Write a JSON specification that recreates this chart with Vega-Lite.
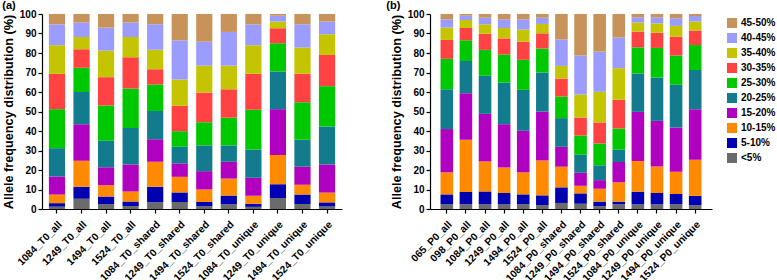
{
  "$schema": "https://vega.github.io/schema/vega-lite/v6.json",
  "padding": {"left": 2, "top": 0, "right": 0, "bottom": 0},
  "background": "white",
  "spacing": 44,
  "config": {
    "view": {"stroke": null},
    "font": "Liberation Sans",
    "axis": {
      "labelFont": "Liberation Sans", "labelFontWeight": "bold", "labelFontSize": 10, "labelColor": "black",
      "titleFont": "Liberation Sans", "titleFontWeight": "bold", "titleFontSize": 12.7, "titleColor": "black",
      "domainColor": "black", "tickColor": "black", "domainWidth": 1.2, "tickWidth": 1.2, "tickSize": 4, "grid": false
    },
    "title": {"font": "Liberation Sans", "fontSize": 11, "fontWeight": "bold", "color": "black", "anchor": "start", "frame": "bounds", "offset": -2},
    "legend": {
      "labelFont": "Liberation Sans", "labelFontWeight": "bold", "labelFontSize": 10, "labelColor": "black", "labelOffset": 4,
      "symbolType": "square", "symbolSize": 100, "symbolStrokeWidth": 0, "rowPadding": 5, "title": null, "padding": 0,
      "orient": "none", "legendX": 685, "legendY": 4
    }
  },
  "resolve": {"scale": {"color": "shared"}},
  "hconcat": [
    {
      "title": {"text": "(a)"},
      "width": 300,
      "height": 195,
      "data": {"values": [
        {"sample": "1084_T0_all", "<5%": 1.2, "5-10%": 1.8, "10-15%": 4.4, "15-20%": 9.3, "20-25%": 14.5, "25-30%": 20, "30-35%": 18.1, "35-40%": 14.7, "40-45%": 10.7, "45-50%": 5.3},
        {"sample": "1249_T0_all", "<5%": 5.2, "5-10%": 6.2, "10-15%": 13.3, "15-20%": 18.8, "20-25%": 16.5, "25-30%": 12.4, "30-35%": 9.5, "35-40%": 6.3, "40-45%": 7.5, "45-50%": 4.3},
        {"sample": "1494_T0_all", "<5%": 2.5, "5-10%": 3.9, "10-15%": 5.8, "15-20%": 9.2, "20-25%": 13.6, "25-30%": 18.1, "30-35%": 14.5, "35-40%": 13.6, "40-45%": 11.8, "45-50%": 7},
        {"sample": "1524_T0_all", "<5%": 1.5, "5-10%": 2.3, "10-15%": 5.2, "15-20%": 13.8, "20-25%": 18.8, "25-30%": 20.2, "30-35%": 16, "35-40%": 10.4, "40-45%": 7.5, "45-50%": 4.3},
        {"sample": "1084_T0_shared", "<5%": 3.5, "5-10%": 7.9, "10-15%": 12.8, "15-20%": 11.6, "20-25%": 14.5, "25-30%": 13.5, "30-35%": 7.9, "35-40%": 10, "40-45%": 13, "45-50%": 5.3},
        {"sample": "1249_T0_shared", "<5%": 3.6, "5-10%": 4.9, "10-15%": 8, "15-20%": 6.9, "20-25%": 8.5, "25-30%": 8, "30-35%": 13, "35-40%": 13.5, "40-45%": 20.1, "45-50%": 13.5},
        {"sample": "1494_T0_shared", "<5%": 1.4, "5-10%": 2.2, "10-15%": 6.4, "15-20%": 9.4, "20-25%": 13.2, "25-30%": 11.9, "30-35%": 15.2, "35-40%": 13.8, "40-45%": 12.3, "45-50%": 14.2},
        {"sample": "1524_T0_shared", "<5%": 2.4, "5-10%": 4.5, "10-15%": 8.7, "15-20%": 8.6, "20-25%": 8.4, "25-30%": 14.2, "30-35%": 14.6, "35-40%": 12.1, "40-45%": 17.3, "45-50%": 9.2},
        {"sample": "1084_T0_unique", "<5%": 1.1, "5-10%": 1.6, "10-15%": 4.1, "15-20%": 9.2, "20-25%": 14.5, "25-30%": 20.4, "30-35%": 18.4, "35-40%": 14.7, "40-45%": 10.7, "45-50%": 5.3},
        {"sample": "1249_T0_unique", "<5%": 5.6, "5-10%": 7.1, "10-15%": 15, "15-20%": 23.5, "20-25%": 19.3, "25-30%": 14.5, "30-35%": 7.7, "35-40%": 3.4, "40-45%": 3, "45-50%": 0.9},
        {"sample": "1494_T0_unique", "<5%": 2.6, "5-10%": 4.8, "10-15%": 5.1, "15-20%": 9.2, "20-25%": 13.8, "25-30%": 19.3, "30-35%": 14.5, "35-40%": 13.5, "40-45%": 11.9, "45-50%": 5.3},
        {"sample": "1524_T0_unique", "<5%": 1.3, "5-10%": 2.1, "10-15%": 5, "15-20%": 14.4, "20-25%": 19.5, "25-30%": 20.7, "30-35%": 16, "35-40%": 10.6, "40-45%": 6.5, "45-50%": 3.9}
      ]},
      "transform": [
        {"fold": ["<5%", "5-10%", "10-15%", "15-20%", "20-25%", "25-30%", "30-35%", "35-40%", "40-45%", "45-50%"], "as": ["bin", "pct"]},
        {"lookup": "bin", "from": {"data": {"values": [
          {"bin": "<5%", "rank": 0}, {"bin": "5-10%", "rank": 1}, {"bin": "10-15%", "rank": 2}, {"bin": "15-20%", "rank": 3}, {"bin": "20-25%", "rank": 4},
          {"bin": "25-30%", "rank": 5}, {"bin": "30-35%", "rank": 6}, {"bin": "35-40%", "rank": 7}, {"bin": "40-45%", "rank": 8}, {"bin": "45-50%", "rank": 9}
        ]}, "key": "bin", "fields": ["rank"]}}
      ],
      "mark": {"type": "bar"},
      "encoding": {
        "x": {"field": "sample", "type": "nominal", "sort": null,
              "scale": {"paddingInner": 0.34, "paddingOuter": 0.28},
              "axis": {"title": null, "labelAngle": -45, "labelAlign": "right", "labelBaseline": "top", "labelFontSize": 10.3, "labelPadding": 6}},
        "y": {"field": "pct", "type": "quantitative", "stack": "zero",
              "scale": {"domain": [0, 100], "nice": false},
              "axis": {"title": "Allele frequency distribution (%)", "values": [0, 10, 20, 30, 40, 50, 60, 70, 80, 90, 100], "titlePadding": 4}},
        "order": {"field": "rank", "type": "quantitative", "sort": "ascending"},
        "color": {"field": "bin", "type": "nominal",
                  "sort": ["45-50%", "40-45%", "35-40%", "30-35%", "25-30%", "20-25%", "15-20%", "10-15%", "5-10%", "<5%"],
                  "scale": {"domain": ["45-50%", "40-45%", "35-40%", "30-35%", "25-30%", "20-25%", "15-20%", "10-15%", "5-10%", "<5%"],
                            "range": ["#C8935B", "#9C9CFF", "#C4C400", "#FF4242", "#00C800", "#127B8E", "#B000C0", "#FF8A00", "#0000B0", "#6B6B6B"]}}
      }
    },
    {
      "title": {"text": "(b)", "dx": -4},
      "width": 282,
      "height": 195,
      "data": {"values": [
        {"sample": "065_P0_all", "<5%": 2.4, "5-10%": 5.1, "10-15%": 11.3, "15-20%": 22.2, "20-25%": 20.4, "25-30%": 15.6, "30-35%": 9.7, "35-40%": 6.3, "40-45%": 4.3, "45-50%": 2.7},
        {"sample": "098_P0_all", "<5%": 2.4, "5-10%": 6.3, "10-15%": 26.8, "15-20%": 23.9, "20-25%": 16.5, "25-30%": 10.6, "30-35%": 6.3, "35-40%": 4.1, "40-45%": 2.2, "45-50%": 0.9},
        {"sample": "1084_P0_all", "<5%": 2.4, "5-10%": 6.6, "10-15%": 15.4, "15-20%": 24.4, "20-25%": 19.5, "25-30%": 13.3, "30-35%": 8.3, "35-40%": 4.8, "40-45%": 3.4, "45-50%": 1.9},
        {"sample": "1249_P0_all", "<5%": 2.4, "5-10%": 5.8, "10-15%": 13.1, "15-20%": 22.2, "20-25%": 21.3, "25-30%": 14.4, "30-35%": 8.3, "35-40%": 5.3, "40-45%": 4.5, "45-50%": 2.7},
        {"sample": "1494_P0_all", "<5%": 2.4, "5-10%": 5.1, "10-15%": 11.3, "15-20%": 21.3, "20-25%": 21, "25-30%": 15.4, "30-35%": 9.3, "35-40%": 6.2, "40-45%": 5.3, "45-50%": 2.7},
        {"sample": "1524_P0_all", "<5%": 2, "5-10%": 5, "10-15%": 17.9, "15-20%": 25.1, "20-25%": 20, "25-30%": 12.3, "30-35%": 7.8, "35-40%": 4.8, "40-45%": 3.2, "45-50%": 1.9},
        {"sample": "1084_P0_shared", "<5%": 3.1, "5-10%": 8, "10-15%": 10.6, "15-20%": 10.2, "20-25%": 14.7, "25-30%": 11.1, "30-35%": 9.2, "35-40%": 6.5, "40-45%": 13.5, "45-50%": 13.1},
        {"sample": "1249_P0_shared", "<5%": 2.7, "5-10%": 5.3, "10-15%": 3.9, "15-20%": 6.7, "20-25%": 9.2, "25-30%": 9.9, "30-35%": 9.2, "35-40%": 11.8, "40-45%": 20, "45-50%": 21.3},
        {"sample": "1494_P0_shared", "<5%": 1.4, "5-10%": 2.4, "10-15%": 6.6, "15-20%": 4.4, "20-25%": 7.6, "25-30%": 11.2, "30-35%": 10.8, "35-40%": 15.7, "40-45%": 20.6, "45-50%": 19.3},
        {"sample": "1524_P0_shared", "<5%": 2.4, "5-10%": 1.4, "10-15%": 9.9, "15-20%": 10.4, "20-25%": 6.3, "25-30%": 10.9, "30-35%": 14.7, "35-40%": 16.2, "40-45%": 15.7, "45-50%": 12.1},
        {"sample": "1084_P0_unique", "<5%": 2.4, "5-10%": 6.5, "10-15%": 15.7, "15-20%": 25.2, "20-25%": 19.7, "25-30%": 13.4, "30-35%": 8.1, "35-40%": 4.6, "40-45%": 2.7, "45-50%": 1.7},
        {"sample": "1249_P0_unique", "<5%": 2.4, "5-10%": 5.8, "10-15%": 13.6, "15-20%": 23.4, "20-25%": 22.2, "25-30%": 15.2, "30-35%": 7.8, "35-40%": 4.8, "40-45%": 3.1, "45-50%": 1.7},
        {"sample": "1494_P0_unique", "<5%": 2.4, "5-10%": 5.3, "10-15%": 11.4, "15-20%": 22.7, "20-25%": 21.9, "25-30%": 15, "30-35%": 9.7, "35-40%": 5.5, "40-45%": 3.9, "45-50%": 2.2},
        {"sample": "1524_P0_unique", "<5%": 1.9, "5-10%": 4.9, "10-15%": 18.5, "15-20%": 25.9, "20-25%": 20.1, "25-30%": 12.8, "30-35%": 7.4, "35-40%": 4.6, "40-45%": 2.9, "45-50%": 1}
      ]},
      "transform": [
        {"fold": ["<5%", "5-10%", "10-15%", "15-20%", "20-25%", "25-30%", "30-35%", "35-40%", "40-45%", "45-50%"], "as": ["bin", "pct"]},
        {"lookup": "bin", "from": {"data": {"values": [
          {"bin": "<5%", "rank": 0}, {"bin": "5-10%", "rank": 1}, {"bin": "10-15%", "rank": 2}, {"bin": "15-20%", "rank": 3}, {"bin": "20-25%", "rank": 4},
          {"bin": "25-30%", "rank": 5}, {"bin": "30-35%", "rank": 6}, {"bin": "35-40%", "rank": 7}, {"bin": "40-45%", "rank": 8}, {"bin": "45-50%", "rank": 9}
        ]}, "key": "bin", "fields": ["rank"]}}
      ],
      "mark": {"type": "bar"},
      "encoding": {
        "x": {"field": "sample", "type": "nominal", "sort": null,
              "scale": {"paddingInner": 0.34, "paddingOuter": 0.55},
              "axis": {"title": null, "labelAngle": -45, "labelAlign": "right", "labelBaseline": "top", "labelFontSize": 10.3, "labelPadding": 6}},
        "y": {"field": "pct", "type": "quantitative", "stack": "zero",
              "scale": {"domain": [0, 100], "nice": false},
              "axis": {"title": "Allele frequency distribution (%)", "values": [0, 10, 20, 30, 40, 50, 60, 70, 80, 90, 100], "titlePadding": 4}},
        "order": {"field": "rank", "type": "quantitative", "sort": "ascending"},
        "color": {"field": "bin", "type": "nominal",
                  "sort": ["45-50%", "40-45%", "35-40%", "30-35%", "25-30%", "20-25%", "15-20%", "10-15%", "5-10%", "<5%"],
                  "scale": {"domain": ["45-50%", "40-45%", "35-40%", "30-35%", "25-30%", "20-25%", "15-20%", "10-15%", "5-10%", "<5%"],
                            "range": ["#C8935B", "#9C9CFF", "#C4C400", "#FF4242", "#00C800", "#127B8E", "#B000C0", "#FF8A00", "#0000B0", "#6B6B6B"]}}
      }
    }
  ]
}
